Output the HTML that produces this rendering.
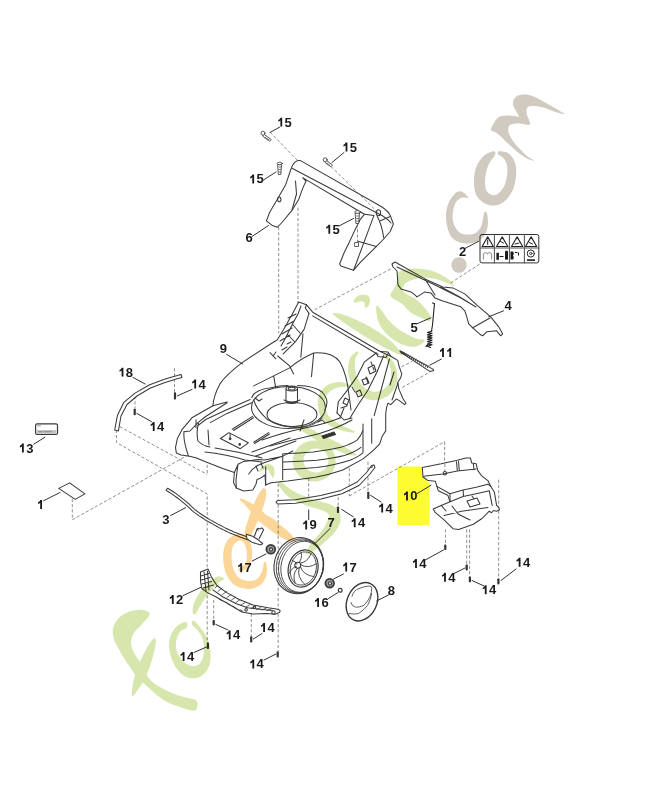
<!DOCTYPE html><html><head><meta charset="utf-8"><style>html,body{margin:0;padding:0;background:#fff;}svg{display:block;filter:blur(0.35px)}</style></head><body>
<svg width="652" height="800" viewBox="0 0 652 800">
<rect width="652" height="800" fill="#fff"/>
<path fill="#fdfc30" d="M397.5,466.5 L421.8,466.5 L422.4,476.5 L429.5,483 L429.5,525 L397.5,525 Z"/>
<g fill="none" stroke="#6a6a6a" stroke-width="0.75" stroke-dasharray="3.2 2">
<path d="M278.7,227 L278.7,333"/>
<path d="M298,207.6 L298,304"/>
<path d="M314.5,309.8 L391.8,268.3"/>
<path d="M270,132 L297,160"/>
<path d="M450.8,282.9 L479.7,264"/>
<path d="M401.4,366.8 L412.2,361.4"/>
<path d="M402.2,387.5 L429.8,372.1"/>
<path d="M174.5,368.3 L174.5,392.2"/>
<path d="M135,396 L135,408.8"/>
<path d="M116.4,429.8 L116.4,442.5 L207.2,494 L207.2,642.6"/>
<path d="M119.7,426.6 L207.2,474.4"/>
<path d="M207.2,459.6 L207.2,474.4"/>
<path d="M72.3,498.9 L72.3,519.8 L197.4,449.8"/>
<path d="M213.7,600 L213.7,620"/>
<path d="M251.3,613.6 L251.3,636.2"/>
<path d="M278.2,483.7 L278.2,651"/>
<path d="M308.7,478 L308.7,500"/>
<path d="M338.2,492 L338.2,506.4"/>
<path d="M368,461.7 L368,491.7"/>
<path d="M349.3,468 L349.3,496"/>
<path d="M349.3,496 L444.6,441.7"/>
<path d="M444.6,441.7 L444.6,471.4"/>
<path d="M445.4,529.4 L445.4,544.6"/>
<path d="M466.7,529.4 L466.7,565.3"/>
<path d="M469.6,529.4 L469.6,577"/>
<path d="M498.7,479.7 L498.7,579"/>
</g>
<g fill="none" stroke="#3a3a3a" stroke-width="1.05" stroke-linejoin="round" stroke-linecap="round">

<!-- part 6 handle bracket -->
<path fill="#fff" d="M292.2,166.1 Q295,160 300.5,160.6 L381.6,206.8 Q388,211 390.2,215.4 L393.4,224 L390.2,231.5 L383.7,239 L376.2,246.6 L367.6,255.2 L360.1,262.7 L353.6,270.2 L340.7,265.9 L339.7,263.7 L344,253 L349.3,242.3 L354.7,230.4 L360.1,219.7 L364.4,214.3 L303,177.9 L306,181 L303,187.6 L298.7,199.4 L292.2,210.1 L281.5,223 L277.2,227.3 L271.8,225.2 L266.4,220.9 L269.7,212.3 L277.2,199.4 L285.8,184.4 L290.1,171.5 Z"/>
<path d="M292.5,168.5 L377,213 Q386,217 391,223"/>
<path d="M295.5,181 L296.5,194 L292,210 M303,178 L306,181"/>
<path d="M374,215.4 L353.6,270.2 M377.3,216.5 Q382,225 383.7,238 M380.5,220.8 L390.2,216.5 M357.9,241.2 L376.2,246.6 M364.4,214.3 L374,215.4"/>
<path stroke-width="0.8" d="M355,242.5 h3.5 v4 h-3.5 z"/>
<ellipse cx="279.3" cy="199.4" rx="1.6" ry="2.3"/>
<ellipse cx="378.4" cy="212.8" rx="2.2" ry="3"/>
<!-- screws 15 -->
<g fill="#fff" stroke="#333" stroke-width="0.8">
<path d="M264.3,134.5 L271.2,139.5 L269.8,141.2 L262.9,136.2 Z"/>
<circle cx="263" cy="133.2" r="2"/>
<path d="M278,164.5 L281.5,164.5 L280.8,174.5 L278.7,174.5 Z"/>
<ellipse cx="279.75" cy="163.5" rx="2.6" ry="1.3"/>
<path d="M326.5,160.5 L332.5,165 L331,166.8 L325,162.3 Z"/>
<circle cx="325.2" cy="159.8" r="2"/>
<path d="M355.5,213 L359.5,213 L358.7,223.5 L356.3,223.5 Z"/>
<ellipse cx="357.5" cy="212" rx="2.8" ry="1.4"/>
</g>
<path stroke="#444" stroke-width="0.7" d="M266,137 l-1,1.3 M267.5,138 l-1,1.3 M269,139 l-1,1.3 M279,167 h2 M279,169.5 h2 M279,172 h2 M328,163 l-1,1.3 M329.5,164 l-1,1.3 M356.5,216 h2.5 M356.5,218.5 h2.5 M356.5,221 h2.5"/>
<!-- part 2 label -->
<rect fill="#fff" x="480" y="234.5" width="58.8" height="28.4" rx="2" stroke="#333" stroke-width="1"/>
<path d="M480,248 H538.8 M494.4,234.5 V262.9 M509.4,234.5 V262.9 M524.4,234.5 V262.9" stroke="#555"/>
<path stroke="#222" stroke-width="1.1" d="M487.7,236.9 l-5.6,9.6 h11.2 z M502.2,236.9 l-5.6,9.6 h11.2 z M517.1,236.9 l-5.6,9.6 h11.2 z M531.1,236.9 l-5.6,9.6 h11.2 z"/>
<path stroke="#222" stroke-width="1" d="M487.7,240 v4.5 M500.5,241.5 l3,1.5 M515,244 l4,-1 M529.5,242.5 l3,1.5"/>
<path stroke="#999" stroke-width="1.2" d="M483.5,259 v-5 q2,-3 4,0 q2,-3 4,0 v5"/>
<g fill="#1a1a1a" stroke="none">
<rect x="496.4" y="252.8" width="2.5" height="7"/>
<rect x="499.5" y="256" width="4" height="1"/>
<rect x="505" y="250.8" width="3" height="9" rx="1"/>
<path d="M510.5,251.5 h2.5 q1.5,2 0,4 q1.5,2 0,4 h-2.5 z"/>
<rect x="515" y="252" width="2.5" height="1"/><rect x="518" y="252.5" width="1" height="3"/>
<path d="M527,259.3 h8 v1.6 h-8 z"/>
</g>
<circle cx="530.8" cy="253.5" r="3.6" stroke="#222" stroke-width="1"/>
<circle cx="530.8" cy="253.5" r="1.2" stroke="#222" stroke-width="0.8"/>
<!-- part 4 deflector -->
<path fill="#fff" d="M392,264 L395,262 L424.9,278.9 L442.8,286.9 L452.8,287.9 L464.8,293.9 L476.7,304.9 L490.7,316.8 L498.7,326.8 L502.6,333.8 L500.7,335.8 L496.7,330.8 L486.7,331.8 L482.7,335.8 L480.7,334.8 L472.7,327.8 L468.7,323.8 L466.8,316.8 L464.8,310.8 L460.8,306.8 L442.8,300.9 L434.9,297.9 L430.9,292.9 L424.9,291.9 L416.9,296.9 L414.9,294.9 L410.9,291.9 L401,288.9 L398,284.9 L397,271 L393,267 Z"/>
<path d="M397,267 L433,284 L461,298 L476,307 M425,279 L435,295 M472.7,327.8 L490,318 M441,287 L458,296 L468,302"/>
<!-- part 5 spring -->
<path stroke="#222" stroke-width="1.1" d="M432.5,303 L434.5,303.5 L432.5,325 L431.5,331"/>
<path stroke="#222" stroke-width="1.2" d="M432,331 l-4.5,1.5 l4.5,0.8 l-4.5,1.5 l4.5,0.8 l-4.5,1.5 l4.5,0.8 l-4.5,1.5 l4.5,0.8 l-4.5,1.5 l4.5,0.8 l-4.5,1.5 l4.5,0.8 l-4.5,1.5 l3,1.2 M427.5,345 l-1.5,1.5"/>
<!-- part 11 -->
<path d="M399.9,350.7 L432.9,369.1 L433.7,370.6 L429.8,371.4 L400.7,352.2 Z"/>
<path stroke="#333" stroke-width="0.9" d="M402,351.5 l-0.5,1.8 M404,352.6 l-0.5,1.8 M406,353.7 l-0.5,1.8 M408,354.8 l-0.5,1.8 M410,355.9 l-0.5,1.8 M412,357 l-0.5,1.8 M414,358.1 l-0.5,1.8 M416,359.2 l-0.5,1.8 M418,360.3 l-0.5,1.8 M420,361.4 l-0.5,1.8 M422,362.5 l-0.5,1.8 M424,363.6 l-0.5,1.8 M426,364.7 l-0.5,1.8 M428,365.8 l-0.5,1.8"/>
<!-- part 9 deck outline -->
<path fill="#fff" d="M298.7,302 L306.5,304.8 L312.7,312.2 L380.2,351.5 L390.8,356.2 L397.7,360.4 L399,366 L401.8,374.2 L400.4,378.3 L397.7,382.5 L399,389.4 L403.2,399 L406,403.2 L404.6,404.6 L399,400.4 L396.3,399 L393.5,401.8 L390.8,404.6 L388,403.2 L386.6,407.3 L385.7,413.5 L385.7,430.9 L382.2,436.2 L379.6,444.2 L374.1,449.7 Q368,455 363.1,458.9 Q352,465 342.8,470 Q330,474.5 315.2,477.3 L287.6,481 L271,482.8 L265.7,485.1 L265,475 L262.5,476.8 L259.7,478.6 L257,479.6 L256,484.2 L252.8,489.9 L243.6,490.9 L236.3,488.1 L233.5,482.6 L234.4,472.5 L223.4,468.8 L206.8,462.3 L195.8,457.7 L188.4,455.9 L181,455 L176.4,453.1 L175.5,447.6 L177.4,438.4 L182,429.7 L191.9,417.8 L212.9,405.8 Q213.5,396 219.9,383.9 Q226,375 241.8,362.9 Q258,352 273.7,342 L277.2,340 L283.6,329.4 L292.2,314.3 Z"/>
<path d="M312.7,315.9 L378,354.5 M306.5,304.8 L305.3,308 L309,313.4"/>
<!-- rear left post -->
<path d="M309,313.4 L304.1,329.4 L295.5,341.6 L283.2,353.9 M301,306 L298,314 L293,323 L289,331 L285,339 L281,346 M288,318 L296,314 M285,326 L294,321 M282,334 L292,328 M280,341 L290,335 M293,325 L300,333 M288,335 L295,342 M276,352 l-3,4 M270,352.7 L275.9,358.8 M282,350 l5,-3 M287,344 l4,-2"/>
<!-- tub -->
<path d="M253.7,385.9 L273.7,375.9 L289.6,367.9 Q300,359 313.7,353 Q332,351.5 340,362 Q347,375 349,395 L351,410 M303,333.7 L300.8,357.3 M313.7,353 L311.5,376.6 M273.7,375.9 L275.7,387.9 M277.7,356 L289.6,365.9 L293.6,373.9"/>
<!-- bowl -->
<path d="M251.8,397.8 Q254,390 269.7,387.9 Q280,385.5 288,385.5 M297.6,385.5 Q315,386 322,392 Q330,400 325,410"/>
<ellipse cx="288.5" cy="407.5" rx="37" ry="21"/>
<path d="M253.7,399.8 Q256,409 267.7,419.8 Q281.7,427 297.6,427.7 Q314,427 322,418"/>
<ellipse cx="292" cy="414.5" rx="25" ry="12"/>
<path d="M286,389 v13 M297.5,389 v13 M286,402 q5.75,3 11.5,0 M284,400 q8,4 16,0"/>
<ellipse cx="291.75" cy="388.5" rx="5.75" ry="2.5"/>
<ellipse cx="291.75" cy="388.5" rx="3.5" ry="1.4"/>
<path d="M255,398 l4,3 l3,-2 M318,422 l4,-2 l3,3"/>
<!-- deck left / front top -->
<path d="M212.9,405.8 L227.1,401.9 M227.1,402.7 L205.7,416.5 L198,422.6 L190,431 L184,431.7 M196,419.8 L196,427.7"/>
<path d="M184,431.7 Q183,440 188.4,455.9 M250.2,399.6 L225.6,410.3 L205.7,419.5 L198,425.7 M251.7,402.7 L227.1,413.4 L210.3,422.6 M198.5,423 Q196,432 198,441 Q203,446 210,447 M208,430 L209,445 M205,452 Q225,454 245,460 L262,462 M215,448 Q240,452 262,458 M252,452 L290,438 M256,456 L296,441"/>
<path d="M220.4,438.5 L229,432.6 L248.3,442.8 L240.3,448.7 Z"/>
<path d="M230.1,433.6 L230.1,438.5 M232.2,429.3 L252.6,416.4 M233.5,430.5 L253.5,417.8 M253.7,442.2 L268.7,432.6 M254.5,443.5 L269.5,434"/>
<circle cx="230.1" cy="438.8" r="0.9" fill="#333"/><circle cx="239.7" cy="444.4" r="0.8" fill="#333"/>
<path d="M234.4,472.5 L238.1,464.2 L243.6,461.4 L258.3,459.6 L264.5,460 L281.8,456.6 L292.8,451 M248.7,474 L252.4,469.4 L257,465.8 L263.4,463 L281.8,456.6 M265.7,466.7 L265.7,485.1 M238,464 L236,480 L236.3,488.1"/>
<path d="M256,466 L258,471 M261,463 L263,468"/>
<!-- front face -->
<path d="M282.7,453.8 L282.7,479.6 M283.7,453.7 Q300,453 313.1,451.9 Q330,450 340.7,447.3 Q352,444 357.3,439.9 Q361,436 362.8,430.7 M283.7,462 Q300,461.5 316.8,460.2 Q333,458.5 344.4,455.6 Q355,452 361,447.3 M283.7,469.4 Q300,469 316.8,467.6 Q335,465 349.9,460.2 Q358,457 362.8,452.8"/>
<path d="M363,424 L363,452 M371.7,418.7 L371.7,443.2"/>
<path d="M262,440 Q285,432 305,428 Q325,424 340,418 M270,446 Q295,439 318,434 Q338,428 352,420"/>
<path d="M322,436 l12,-4 l1.5,2.5 l-12,4 z" fill="#333"/>
<path d="M300,431 L304,420 M340,418 L344,408"/>
<!-- right column -->
<path d="M375.6,353.5 L364.5,361.8 L357.6,375.6 L348,389.4 L338.3,401.8 L337,412.9 M389.4,359 L374.2,415.6 M383.5,356 L377,372 L368,390 L358,405 L350,418 M380.2,351.5 L388,352 L390.8,356.2 M376,352.5 l2,4 l8,1 l2,-4"/>
<path d="M368,368 l6,-3 l2,6 l-6,3 z M362,380 l5,-2 l2,5 l-5,2 z M356,392 l4,-2 l2,5 l-4,2 z M345,398 l4,2 l-2,5 l-4,-2 z M341,408 l6,-2 M371,362 l3,8 M366,377 l2,6 M352,387 l3,5"/>
<path d="M398,383 L392,400 M394,372 L390,385 M337,412.9 L344,420 M344,420 L352,418"/>
<!-- part 18 -->
<path fill="#fff" d="M114.7,430 L117.5,415.2 L123.9,402.3 L135,393.1 L149.7,384.8 L164.4,379.3 L177.3,375.6 L181,374.4 L182,377.5 L178,378.5 L165,382.5 L150.5,388 L137,396 L127,404.5 L121,416 L118.4,430.9 Z"/>
<!-- part 13 -->
<rect x="35.6" y="423.8" width="21.9" height="10.6" rx="1.5" stroke-width="1.2"/>
<rect x="36.8" y="430" width="19.5" height="3.4" fill="#c4c4c4" stroke="none"/>
<path stroke="#777" stroke-width="0.7" d="M37.5,425.8 h3 M38.5,431.7 h4 M44,431.7 h8"/>
<!-- part 1 -->
<path fill="#fff" d="M58.7,488.4 L69.7,482.9 L84.9,493.9 L75.2,499.4 Z"/>
<!-- part 3 -->
<path fill="#fff" d="M166.1,490.4 L167.5,491.3 L169.5,492.5 L171.9,493.9 L174.2,495.6 L176.8,497.5 L179.6,499.6 L182.4,501.9 L185.1,504.1 L187.4,506.2 L189.6,508.2 L191.8,510.3 L194.2,512.3 L196.8,514.2 L199.5,516.1 L202.1,517.8 L204.5,519.4 L206.6,520.7 L208.5,521.8 L210.4,522.8 L212.4,523.9 L214.5,525.1 L216.7,526.3 L218.9,527.6 L221.2,528.8 L223.5,529.9 L225.8,531.0 L228.1,532.1 L230.5,533.2 L233.0,534.3 L235.7,535.3 L238.3,536.3 L240.6,537.2 L242.8,538.0 L244.7,538.7 L246.4,539.3 L247.6,539.7 L248.4,537.3 L247.3,536.9 L245.6,536.3 L243.7,535.6 L241.6,534.8 L239.2,533.9 L236.7,532.9 L234.0,531.9 L231.5,530.8 L229.2,529.8 L226.9,528.7 L224.6,527.6 L222.4,526.4 L220.2,525.3 L217.9,524.1 L215.8,522.9 L213.6,521.7 L211.7,520.6 L209.8,519.6 L208.0,518.5 L205.9,517.2 L203.5,515.7 L200.9,514.0 L198.3,512.1 L195.8,510.3 L193.6,508.4 L191.4,506.4 L189.2,504.2 L186.7,502.1 L184.1,499.9 L181.2,497.6 L178.4,495.4 L175.8,493.4 L173.3,491.8 L170.9,490.3 L168.9,489.0 L167.5,488.2Z"/>
<path fill="#fff" d="M246.2,534.3 L252.6,536.2 L258.1,539.8 L262.7,543.5 L260.9,544.9 L252.6,542.6 L247,539 Z"/>
<path d="M254.4,536.2 L257.2,528.8 L259,528.3 M259,538.9 L263.6,529.7 L261.8,527.9 L259.8,529 M257.2,528.8 l1,1.5"/>
<!-- part 17 left -->
<circle cx="270.8" cy="549.3" r="4.4" stroke-width="1.8" fill="#999"/><circle cx="271" cy="549.5" r="1.6" stroke-width="1.1" fill="#ddd"/>
<!-- wheel -->
<ellipse cx="298.8" cy="565.6" rx="24.6" ry="28.3" transform="rotate(14 298.8 565.6)"/>
<ellipse cx="299.9" cy="566" rx="23.4" ry="27.4" transform="rotate(14 299.9 566)" stroke-width="0.8"/>
<ellipse cx="301" cy="566.4" rx="22.2" ry="26.6" transform="rotate(14 301 566.4)" stroke-width="0.8"/>
<ellipse cx="302.1" cy="566.8" rx="21" ry="25.8" transform="rotate(14 302.1 566.8)" stroke-width="0.8"/>
<ellipse cx="303.1" cy="568.5" rx="14.7" ry="18.9" transform="rotate(15 303.1 568.5)" stroke-width="1.2"/>
<ellipse cx="303.3" cy="568.5" rx="13" ry="17" transform="rotate(15 303.3 568.5)" stroke-width="0.8"/>
<circle cx="297.8" cy="565.2" r="3"/>
<path stroke-width="0.9" d="M300.7,567.3 Q303.0,575.0 314.0,576.7 M299.1,568.7 Q296.6,576.8 305.1,584.8 M297.3,568.5 Q291.9,573.6 295.1,583.4 M296.4,566.6 Q291.8,567.2 289.7,573.2 M296.8,564.3 Q296.2,561.4 292.2,560.3 M298.4,562.9 Q302.7,559.5 301.1,552.2 M300.2,563.1 Q307.4,562.7 311.1,553.6 M301.2,564.9 Q307.5,569.1 316.5,563.8"/>
<!-- part 17 right, 16 -->
<circle cx="329.7" cy="583.2" r="4.3" stroke-width="1.8" fill="#999"/><circle cx="330" cy="583.4" r="1.6" stroke-width="1.1" fill="#ddd"/>
<circle cx="340.2" cy="590.3" r="1.9" stroke-width="1.2"/>
<!-- part 8 hubcap -->
<ellipse fill="#fff" cx="362" cy="601.7" rx="14.8" ry="20" transform="rotate(25 362 601.7)" stroke-width="1.4"/>
<path stroke-width="0.8" d="M352,596.2 Q354,590 358.4,588.8 Q365,586 369.4,586 Q372.5,586.5 371.7,588.8 Q371.5,592 370.4,596.2 Q368,601 363.9,605.4 Q359,607.5 355.6,607.2 Q351.5,606 351,602.6 M349.2,613.6 Q354,614.5 358.4,613.6 Q364,610 367.6,605.4 Q371,599 371.7,593.4"/>
<!-- part 19 -->
<path fill="#fff" d="M277.6,500.5 L295.3,499.7 L320.6,495.5 L340.9,490.4 L357.2,482 L367,472 L371.5,465.5 L374,465 L375,467.5 L373.5,469.5 L369.5,474.5 L359,485.5 L342,493.8 L321,499 L295.5,503.3 L277.6,504 L276,502.2 Z"/>
<path d="M371,467.5 l1.5,-0.8"/>
<!-- part 12 -->
<path fill="#fff" d="M200.5,571.9 L208.1,569.1 L211.6,577.4 L217.1,585.7 L226.8,592.6 L239.2,599.5 L253,605.1 L268.2,607.8 L277.9,609.2 Q281.5,610.5 279.3,612.5 L275.1,614.2 L266.8,613.5 L253,614 L242,612 L228.1,603.7 L215.7,596.8 L207.4,592.6 L201.9,588.5 L200.5,581.6 Z"/>
<path d="M212.9,589.9 L222.6,596.8 L236.4,603.7 L247.5,607.8 L259.9,609.2 L272.4,610.6 M200.8,576 L208.8,573.5 M201.2,580 L210,577.5 M201.8,584 L211.5,581.5 M203,588 L213.5,585 M204,572 L206,591 M207.5,571 L209,590"/>
<path stroke-width="0.8" d="M215,588 l3,-3 M218,591.5 l4,-3.5 M222.5,594.5 l4,-3 M227,597.5 l4,-3 M231.5,600 l4,-2.8 M236,602.5 l4,-2.8 M241,605 l4,-2.5 M246,607 l4,-2.3 M251,608.5 l4,-2 M256.5,609.5 l4,-1.8 M262,610 l4,-1.8 M267,610.5 l4,-1.5 M219,599 l3,2 M226,602 l3,2.5 M233,606 l3,2.5 M240,609.5 l3,2"/>
<circle cx="246.1" cy="609.8" r="1.3"/><circle cx="254.4" cy="607.2" r="1.2"/><circle cx="273.5" cy="612.5" r="1.7"/>
<!-- part 10 -->
<path fill="#fff" d="M422.3,467.5 L441.2,463.8 L457.3,460.2 L466,458 L470.4,458 L471.8,463.1 L476.2,463.8 L477.7,470.4 L482,476.2 L487.9,480.6 L490.8,486.4 L494.4,492.3 L496.6,505.4 L498.8,507.6 L499.5,509.7 L496.6,511.2 L493.7,510.5 L491.5,512.7 L489.3,511.2 L482,518.5 L473.3,524.3 L458.7,529.4 L452.9,528.7 L444.1,519.9 L435.4,512.7 L433.2,509 L441.2,505.4 L450,501.7 L447.8,495.2 L438.3,490.8 L436.9,486.4 L435.4,481.3 L428.1,480.6 L423,477 Z"/>
<path d="M423.7,476.2 L442.7,474 L457.3,471.1 L476.2,468.9 M456.5,461.7 L457.3,470.4 M458.5,461.2 L459.3,470.2 M473.3,463.8 L474,469.7 M436.9,486.4 L450,493.7 L463.1,490.1 L476.2,487.2 L487.9,484.2 L490.8,486.4 M450,493.7 L450,501.7 M450,501.7 L463.1,496.6 L476.2,493.7 L489.3,490.8 L492.2,505.4 M463.1,490.1 L463.5,496.5"/>
<path d="M467,501 L477,498 L480,504 L470,507 Z M472,496 l2,3 M444.1,515.6 L461.6,511.2 L487.9,507.6 M452,506 L458,514 L470,520 M441.2,505.4 L446,511"/>
<circle cx="444.9" cy="473.3" r="1.7"/>

</g>
<g fill="none" stroke="#6a6a6a" stroke-width="0.75" stroke-dasharray="3.2 2">
<path d="M331,166.5 L378,212.5"/>
<path d="M357.5,224 L357.5,243.5"/>
<path d="M444.9,464 L444.9,471.5"/>
</g>
<g stroke="#333" stroke-width="1" stroke-linecap="round">
<line x1="270" y1="132.5" x2="279.9" y2="127"/>
<line x1="332" y1="162.5" x2="344" y2="152.5"/>
<line x1="263.5" y1="180" x2="276" y2="172"/>
<line x1="339" y1="226" x2="353.5" y2="218.5"/>
<line x1="252" y1="236.5" x2="268.5" y2="225.5"/>
<line x1="465.3" y1="248.3" x2="479.1" y2="241"/>
<line x1="503.6" y1="310.8" x2="488.7" y2="316.8"/>
<line x1="416.9" y1="323.8" x2="430.9" y2="317.8"/>
<line x1="441.3" y1="359.1" x2="429.8" y2="365.2"/>
<line x1="226.6" y1="354.4" x2="242.7" y2="364"/>
<line x1="133.1" y1="377.5" x2="145.1" y2="384"/>
<line x1="177.3" y1="395.9" x2="192" y2="389.4"/>
<line x1="136.8" y1="413.4" x2="151.5" y2="421.7"/>
<line x1="33.8" y1="444.2" x2="44.8" y2="437.3"/>
<line x1="43.5" y1="500.8" x2="60" y2="492.5"/>
<line x1="170.5" y1="515.6" x2="185.6" y2="507.7"/>
<line x1="417.3" y1="493.5" x2="431" y2="485.2"/>
<line x1="370.5" y1="495.3" x2="381" y2="502"/>
<line x1="308.7" y1="510" x2="308.7" y2="519.7"/>
<line x1="330" y1="528.6" x2="315.2" y2="543.3"/>
<line x1="341.7" y1="509.4" x2="353.3" y2="516.8"/>
<line x1="252.2" y1="561" x2="266" y2="554"/>
<line x1="333.6" y1="579" x2="343.4" y2="574"/>
<line x1="328.5" y1="598.5" x2="338" y2="592.5"/>
<line x1="388.8" y1="594.8" x2="376.6" y2="601"/>
<line x1="183.1" y1="595.6" x2="201" y2="587.3"/>
<line x1="215.8" y1="624.4" x2="228" y2="630"/>
<line x1="253.4" y1="639" x2="262" y2="633.5"/>
<line x1="194" y1="652.5" x2="206.5" y2="647"/>
<line x1="264" y1="660" x2="276" y2="654"/>
<line x1="425.6" y1="559.8" x2="443.5" y2="550"/>
<line x1="454" y1="573.5" x2="465" y2="568"/>
<line x1="472" y1="580.5" x2="484" y2="586"/>
<line x1="501" y1="580.5" x2="516" y2="569"/>
</g>
<g fill="#333">
<rect x="173.9" y="392.2" width="2.2" height="7.400000000000034" rx="0.8"/>
<rect x="133.6" y="408.8" width="2.2" height="6.399999999999977" rx="0.8"/>
<rect x="367.2" y="491.7" width="2.2" height="7.300000000000011" rx="0.8"/>
<rect x="336.9" y="506.4" width="2.2" height="6.7000000000000455" rx="0.8"/>
<rect x="212.6" y="620" width="2.2" height="5.399999999999977" rx="0.8"/>
<rect x="250.1" y="636.2" width="2.2" height="6.399999999999977" rx="0.8"/>
<rect x="206.8" y="642.6" width="2.2" height="6.399999999999977" rx="0.8"/>
<rect x="276.59999999999997" y="651.2" width="2.2" height="6.399999999999977" rx="0.8"/>
<rect x="444.2" y="544.6" width="2.2" height="5.5" rx="0.8"/>
<rect x="465.59999999999997" y="564.5" width="2.2" height="5.899999999999977" rx="0.8"/>
<rect x="468.79999999999995" y="576.4" width="2.2" height="5.899999999999977" rx="0.8"/>
<rect x="497.29999999999995" y="578.5" width="2.2" height="5.899999999999977" rx="0.8"/>
</g>
<g font-family="Liberation Sans, sans-serif" font-weight="bold" font-size="13" fill="#1a1a1a">
<path d="M280.56,117.66 L282.21,117.66 L282.21,126.60 L280.39,126.60 L280.39,120.49 L279.45,121.14 L278.28,121.59 L278.28,119.97 L279.58,119.19Z"/>
<text x="284.60" y="126.6">5</text>
<path d="M345.76,142.56 L347.41,142.56 L347.41,151.50 L345.59,151.50 L345.59,145.39 L344.65,146.04 L343.48,146.50 L343.48,144.87 L344.78,144.09Z"/>
<text x="349.80" y="151.5">5</text>
<path d="M252.46,174.46 L254.11,174.46 L254.11,183.40 L252.29,183.40 L252.29,177.29 L251.35,177.94 L250.18,178.40 L250.18,176.77 L251.48,175.99Z"/>
<text x="256.50" y="183.4">5</text>
<path d="M328.56,224.76 L330.21,224.76 L330.21,233.70 L328.39,233.70 L328.39,227.59 L327.45,228.24 L326.28,228.69 L326.28,227.07 L327.58,226.29Z"/>
<text x="332.60" y="233.7">5</text>
<text x="245.39" y="242.3">6</text>
<text x="458.89" y="256">2</text>
<text x="504.39" y="310">4</text>
<text x="410.39" y="332">5</text>
<path d="M442.26,348.06 L443.91,348.06 L443.91,357.00 L442.09,357.00 L442.09,350.89 L441.15,351.54 L439.98,352.00 L439.98,350.37 L441.28,349.59Z"/>
<path d="M449.49,348.06 L451.14,348.06 L451.14,357.00 L449.32,357.00 L449.32,350.89 L448.38,351.54 L447.21,352.00 L447.21,350.37 L448.51,349.59Z"/>
<text x="219.69" y="353.3">9</text>
<path d="M121.76,367.66 L123.41,367.66 L123.41,376.60 L121.59,376.60 L121.59,370.49 L120.65,371.14 L119.48,371.60 L119.48,369.97 L120.78,369.19Z"/>
<text x="125.80" y="376.6">8</text>
<path d="M194.46,379.56 L196.11,379.56 L196.11,388.50 L194.29,388.50 L194.29,382.39 L193.35,383.04 L192.18,383.50 L192.18,381.87 L193.48,381.09Z"/>
<text x="198.50" y="388.5">4</text>
<path d="M152.96,422.06 L154.61,422.06 L154.61,431.00 L152.79,431.00 L152.79,424.89 L151.85,425.54 L150.68,426.00 L150.68,424.37 L151.98,423.59Z"/>
<text x="157.00" y="431">4</text>
<path d="M22.16,443.56 L23.81,443.56 L23.81,452.50 L21.99,452.50 L21.99,446.39 L21.05,447.04 L19.88,447.50 L19.88,445.87 L21.18,445.09Z"/>
<text x="26.20" y="452.5">3</text>
<path d="M40.37,500.06 L42.02,500.06 L42.02,509.00 L40.20,509.00 L40.20,502.89 L39.27,503.54 L38.10,504.00 L38.10,502.37 L39.40,501.59Z"/>
<text x="162.29" y="523.8">3</text>
<path d="M406.26,491.46 L407.91,491.46 L407.91,500.40 L406.09,500.40 L406.09,494.29 L405.15,494.94 L403.98,495.39 L403.98,493.77 L405.28,492.99Z"/>
<text x="410.30" y="500.4">0</text>
<path d="M381.46,503.56 L383.11,503.56 L383.11,512.50 L381.29,512.50 L381.29,506.39 L380.35,507.04 L379.18,507.50 L379.18,505.87 L380.48,505.09Z"/>
<text x="385.50" y="512.5">4</text>
<path d="M305.46,520.46 L307.11,520.46 L307.11,529.40 L305.29,529.40 L305.29,523.29 L304.35,523.94 L303.18,524.39 L303.18,522.77 L304.48,521.99Z"/>
<text x="309.50" y="529.4">9</text>
<text x="327.59" y="527.4">7</text>
<path d="M353.96,518.26 L355.61,518.26 L355.61,527.20 L353.79,527.20 L353.79,521.09 L352.85,521.74 L351.68,522.20 L351.68,520.57 L352.98,519.79Z"/>
<text x="358.00" y="527.2">4</text>
<path d="M240.46,563.26 L242.11,563.26 L242.11,572.20 L240.29,572.20 L240.29,566.09 L239.35,566.74 L238.18,567.20 L238.18,565.57 L239.48,564.79Z"/>
<text x="244.50" y="572.2">7</text>
<path d="M345.46,562.56 L347.11,562.56 L347.11,571.50 L345.29,571.50 L345.29,565.39 L344.35,566.04 L343.18,566.50 L343.18,564.87 L344.48,564.09Z"/>
<text x="349.50" y="571.5">7</text>
<path d="M317.36,598.06 L319.01,598.06 L319.01,607.00 L317.19,607.00 L317.19,600.89 L316.25,601.54 L315.08,602.00 L315.08,600.37 L316.38,599.59Z"/>
<text x="321.40" y="607">6</text>
<text x="387.69" y="594.8">8</text>
<path d="M172.06,595.06 L173.71,595.06 L173.71,604.00 L171.89,604.00 L171.89,597.89 L170.95,598.54 L169.78,599.00 L169.78,597.37 L171.08,596.59Z"/>
<text x="176.10" y="604">2</text>
<path d="M228.96,630.46 L230.61,630.46 L230.61,639.40 L228.79,639.40 L228.79,633.29 L227.85,633.94 L226.68,634.39 L226.68,632.77 L227.98,631.99Z"/>
<text x="233.00" y="639.4">4</text>
<path d="M263.36,622.96 L265.01,622.96 L265.01,631.90 L263.19,631.90 L263.19,625.79 L262.25,626.44 L261.08,626.89 L261.08,625.27 L262.38,624.49Z"/>
<text x="267.40" y="631.9">4</text>
<path d="M182.86,651.96 L184.51,651.96 L184.51,660.90 L182.69,660.90 L182.69,654.79 L181.75,655.44 L180.58,655.89 L180.58,654.27 L181.88,653.49Z"/>
<text x="186.90" y="660.9">4</text>
<path d="M252.56,659.46 L254.21,659.46 L254.21,668.40 L252.39,668.40 L252.39,662.29 L251.45,662.94 L250.28,663.39 L250.28,661.77 L251.58,660.99Z"/>
<text x="256.60" y="668.4">4</text>
<path d="M415.26,559.06 L416.91,559.06 L416.91,568.00 L415.09,568.00 L415.09,561.89 L414.15,562.54 L412.98,563.00 L412.98,561.37 L414.28,560.59Z"/>
<text x="419.30" y="568">4</text>
<path d="M444.26,572.86 L445.91,572.86 L445.91,581.80 L444.09,581.80 L444.09,575.69 L443.15,576.34 L441.98,576.79 L441.98,575.17 L443.28,574.39Z"/>
<text x="448.30" y="581.8">4</text>
<path d="M484.96,585.36 L486.61,585.36 L486.61,594.30 L484.79,594.30 L484.79,588.19 L483.85,588.84 L482.68,589.29 L482.68,587.67 L483.98,586.89Z"/>
<text x="489.00" y="594.3">4</text>
<path d="M518.86,557.76 L520.51,557.76 L520.51,566.70 L518.69,566.70 L518.69,560.59 L517.75,561.24 L516.58,561.70 L516.58,560.07 L517.88,559.29Z"/>
<text x="522.90" y="566.7">4</text>
</g>
<g style="mix-blend-mode:multiply">
<path fill="#d7e6ad" fill-rule="evenodd" d="M149.5,613.0 C148.7,611.7 146.1,610.4 143.3,610.0 C140.5,609.6 136.2,609.8 132.6,610.7 C129.0,611.6 124.8,613.2 121.9,615.3 C119.0,617.3 116.5,620.4 115.0,623.0 C113.5,625.6 112.8,627.9 112.7,630.7 C112.6,633.5 113.2,636.8 114.2,639.9 C115.2,643.0 117.0,645.8 118.8,649.1 C120.6,652.4 123.0,656.7 124.9,659.8 C126.8,662.9 128.5,664.9 130.3,667.5 C132.1,670.1 133.5,672.7 135.7,675.2 C137.9,677.8 140.3,680.0 143.3,682.8 C146.3,685.6 149.8,689.1 153.6,692.2 C157.4,695.3 161.4,698.9 166.0,701.4 C170.6,703.9 176.8,706.0 181.2,707.5 C185.5,709.0 189.5,710.4 192.1,710.6 C194.7,710.9 195.8,710.2 196.7,709.0 C197.6,707.8 197.8,704.6 197.5,703.1 C197.2,701.6 196.6,700.6 195.2,699.8 C193.8,699.0 192.6,699.3 189.0,698.3 C185.4,697.3 178.8,695.8 173.7,693.7 C168.6,691.7 162.2,688.5 158.2,686.0 C154.2,683.5 151.8,681.7 149.5,679.0 C147.2,676.3 146.0,673.1 144.1,669.8 C142.2,666.5 139.7,661.8 138.0,659.0 C136.3,656.2 135.2,655.1 134.1,652.9 C133.0,650.7 131.8,648.3 131.4,646.0 C131.0,643.7 130.8,641.5 131.4,639.1 C132.0,636.7 133.2,633.8 134.9,631.4 C136.6,629.0 139.6,626.8 141.8,624.5 C144.0,622.2 146.6,619.5 147.9,617.6 C149.2,615.7 150.3,614.3 149.5,613.0Z"/>
<path fill="#d7e6ad" fill-rule="evenodd" d="M131.8,695.9 C131.6,694.4 132.1,689.3 132.6,685.9 C133.1,682.5 133.9,678.8 134.9,675.2 C135.9,671.6 137.2,668.1 138.7,664.4 C140.2,660.7 142.3,656.3 144.1,652.9 C145.9,649.5 147.8,646.1 149.5,643.7 C151.2,641.3 153.0,638.7 154.1,638.3 C155.2,637.9 155.8,639.0 155.9,641.1 C156.0,643.2 155.1,647.2 154.4,650.6 C153.7,654.0 152.5,658.0 151.5,661.3 C150.5,664.6 149.5,667.5 148.3,670.6 C147.2,673.7 146.1,677.0 144.6,679.8 C143.1,682.6 141.2,684.9 139.5,687.4 C137.8,689.9 135.4,693.4 134.1,694.8 C132.8,696.2 132.1,697.4 131.8,695.9Z"/>
<path fill="#d7e6ad" fill-rule="evenodd" d="M186.0,622.0 C184.3,621.8 179.5,623.8 177.0,626.0 C174.5,628.2 172.3,631.8 171.0,635.0 C169.7,638.2 169.0,641.3 169.0,645.0 C169.0,648.7 169.7,653.0 171.0,657.0 C172.3,661.0 174.5,665.7 177.0,669.0 C179.5,672.3 182.8,675.5 186.0,677.0 C189.2,678.5 193.0,678.5 196.0,678.0 C199.0,677.5 201.8,676.2 204.0,674.0 C206.2,671.8 208.4,668.5 209.5,665.0 C210.6,661.5 210.6,656.7 210.5,653.0 C210.4,649.3 209.9,646.2 209.0,643.0 C208.1,639.8 206.7,636.8 205.0,634.0 C203.3,631.2 200.9,628.2 199.0,626.0 C197.1,623.8 194.7,620.8 193.5,620.5 C192.3,620.2 191.1,622.6 192.0,624.5 C192.9,626.4 197.2,629.4 199.0,632.0 C200.8,634.6 202.2,637.0 203.0,640.0 C203.8,643.0 204.2,646.7 204.0,650.0 C203.8,653.3 203.2,657.4 202.0,660.0 C200.8,662.6 199.0,664.6 197.0,665.5 C195.0,666.4 192.3,666.2 190.0,665.5 C187.7,664.8 185.2,663.2 183.0,661.0 C180.8,658.8 178.2,655.0 177.0,652.0 C175.8,649.0 175.8,645.8 176.0,643.0 C176.2,640.2 177.0,637.2 178.0,635.0 C179.0,632.8 180.5,631.2 182.0,630.0 C183.5,628.8 186.3,628.8 187.0,627.5 C187.7,626.2 187.7,622.2 186.0,622.0Z"/>
<path fill="#d7e6ad" fill-rule="evenodd" d="M195.4,614.4 L195.8,613.8 L196.2,613.1 L196.7,612.2 L197.2,611.2 L197.8,610.2 L198.4,609.1 L199.0,608.1 L199.5,607.3 L200.0,606.4 L200.6,605.4 L201.2,604.4 L201.7,603.4 L202.3,602.4 L202.9,601.4 L203.6,600.4 L204.2,599.5 L204.8,598.6 L205.5,597.7 L206.1,596.8 L206.8,596.0 L207.5,595.1 L208.2,594.2 L208.9,593.4 L209.6,592.5 L210.3,591.7 L211.0,590.9 L211.7,590.0 L212.4,589.2 L213.1,588.4 L213.8,587.6 L214.4,586.9 L215.0,586.3 L215.7,585.6 L216.2,585.0 L216.8,584.5 L217.4,583.9 L217.9,583.5 L218.3,583.0 L218.8,582.6 L219.2,582.2 L219.6,581.9 L220.1,581.5 L220.7,581.2 L221.4,580.8 L222.0,580.5 L222.7,580.2 L223.2,579.9 L223.7,579.7 L223.3,577.3 L222.9,577.2 L222.4,577.0 L221.7,576.9 L220.8,576.7 L219.9,576.6 L218.9,576.5 L217.9,576.5 L216.8,576.8 L215.8,577.1 L214.9,577.4 L214.1,577.9 L213.2,578.4 L212.4,578.9 L211.6,579.5 L210.8,580.1 L210.0,580.7 L209.1,581.4 L208.3,582.2 L207.4,583.0 L206.6,583.9 L205.8,584.7 L205.0,585.6 L204.2,586.5 L203.4,587.5 L202.7,588.4 L201.9,589.3 L201.2,590.3 L200.5,591.3 L199.8,592.3 L199.1,593.4 L198.5,594.4 L197.8,595.5 L197.2,596.6 L196.6,597.7 L196.0,598.9 L195.4,600.0 L194.8,601.2 L194.3,602.4 L193.9,603.6 L193.5,604.7 L193.2,606.0 L193.0,607.3 L192.8,608.6 L192.7,609.9 L192.7,611.1 L192.6,612.1 L192.6,612.9 L192.6,613.6Z"/>
<path fill="#fcd698" fill-rule="evenodd" d="M263.1,488.1 L262.7,488.5 L262.3,489.1 L261.8,489.8 L261.2,490.5 L260.6,491.3 L260.0,492.1 L259.5,493.0 L259.0,493.8 L258.5,494.6 L258.0,495.5 L257.5,496.4 L257.0,497.3 L256.5,498.3 L256.0,499.3 L255.5,500.3 L255.1,501.3 L254.6,502.3 L254.2,503.3 L253.8,504.2 L253.4,505.2 L253.0,506.2 L252.6,507.2 L252.2,508.2 L251.8,509.2 L251.4,510.3 L251.0,511.4 L250.6,512.5 L250.2,513.7 L249.7,514.9 L249.3,516.0 L248.9,517.2 L248.6,518.3 L248.2,519.4 L247.9,520.4 L247.5,521.5 L247.2,522.5 L246.9,523.6 L246.6,524.6 L246.3,525.6 L246.0,526.5 L245.7,527.6 L245.5,528.6 L245.2,529.7 L244.9,530.7 L244.7,531.7 L244.5,532.6 L244.3,533.3 L244.2,533.8 L250.8,536.2 L251.0,535.7 L251.4,535.0 L251.8,534.2 L252.2,533.3 L252.6,532.3 L253.1,531.4 L253.6,530.4 L254.0,529.5 L254.4,528.6 L254.8,527.6 L255.3,526.7 L255.7,525.7 L256.1,524.7 L256.6,523.7 L257.0,522.7 L257.4,521.7 L257.9,520.6 L258.4,519.6 L258.8,518.4 L259.3,517.3 L259.8,516.2 L260.3,515.0 L260.7,513.9 L261.2,512.8 L261.6,511.7 L262.0,510.7 L262.3,509.7 L262.7,508.7 L263.0,507.7 L263.3,506.7 L263.6,505.7 L263.9,504.7 L264.2,503.6 L264.6,502.6 L264.9,501.5 L265.2,500.5 L265.4,499.4 L265.7,498.3 L265.9,497.3 L266.0,496.2 L266.1,495.2 L266.2,494.1 L266.2,493.0 L266.1,492.0 L266.1,491.0 L266.0,490.2 L266.0,489.5 L265.9,488.9Z"/>
<path fill="#fcd698" fill-rule="evenodd" d="M239.5,571.8 L240.1,571.6 L240.9,571.3 L242.0,570.9 L243.2,570.4 L244.4,569.9 L245.6,569.3 L246.8,568.5 L247.9,567.6 L248.7,566.6 L249.4,565.6 L250.0,564.5 L250.5,563.4 L250.9,562.2 L251.3,561.0 L251.5,559.8 L251.8,558.5 L252.0,557.2 L252.1,555.8 L252.1,554.3 L252.1,552.8 L252.0,551.3 L251.9,549.9 L251.7,548.4 L251.5,547.1 L251.2,545.8 L250.9,544.6 L250.5,543.4 L250.0,542.2 L249.5,541.0 L248.9,539.9 L248.3,538.8 L247.5,537.9 L246.7,537.0 L245.8,536.2 L244.8,535.6 L243.7,535.0 L242.6,534.5 L241.5,534.2 L240.3,534.0 L239.0,534.0 L237.7,534.1 L236.4,534.4 L235.2,534.7 L234.0,535.2 L232.8,535.8 L231.7,536.5 L230.6,537.2 L229.6,538.0 L228.7,538.9 L227.9,539.8 L227.1,540.8 L226.5,541.9 L225.9,543.0 L225.3,544.2 L224.9,545.4 L224.4,546.6 L224.1,548.0 L223.8,549.3 L223.5,550.8 L223.3,552.2 L223.2,553.7 L223.1,555.3 L223.1,556.8 L223.2,558.4 L223.3,560.0 L223.4,561.7 L223.6,563.5 L223.8,565.3 L224.2,567.1 L224.6,569.0 L225.0,570.8 L225.6,572.5 L226.3,574.1 L227.0,575.6 L227.8,577.1 L228.6,578.6 L229.6,580.0 L230.6,581.3 L231.7,582.5 L232.9,583.7 L234.2,584.7 L235.5,585.6 L236.9,586.3 L238.3,586.9 L239.7,587.4 L241.1,587.8 L242.4,588.1 L243.6,588.4 L244.9,588.6 L246.2,588.8 L247.6,588.9 L248.9,588.9 L250.2,588.9 L251.6,588.7 L252.9,588.5 L254.2,588.1 L255.4,587.7 L256.7,587.1 L257.9,586.5 L259.0,585.8 L260.2,585.0 L261.2,584.2 L262.2,583.2 L263.2,582.1 L264.0,581.0 L264.7,579.7 L265.2,578.5 L265.7,577.2 L266.2,575.9 L266.5,574.6 L266.7,573.3 L266.9,572.0 L267.0,570.6 L267.0,569.2 L266.9,567.7 L266.7,566.2 L266.5,564.9 L266.3,563.7 L266.1,562.7 L266.0,562.0 L264.0,562.0 L263.9,562.7 L263.7,563.7 L263.5,564.9 L263.3,566.2 L263.0,567.5 L262.7,568.8 L262.4,570.0 L262.1,571.0 L261.7,571.9 L261.3,573.0 L260.8,574.0 L260.3,574.9 L259.8,575.8 L259.3,576.6 L258.8,577.3 L258.2,577.9 L257.7,578.4 L257.0,578.9 L256.3,579.3 L255.5,579.7 L254.7,580.1 L253.8,580.4 L253.0,580.7 L252.2,580.9 L251.4,581.0 L250.6,581.1 L249.8,581.1 L249.0,581.1 L248.1,581.1 L247.2,581.0 L246.3,580.8 L245.4,580.6 L244.4,580.3 L243.4,580.0 L242.5,579.7 L241.5,579.3 L240.7,578.8 L239.9,578.4 L239.2,577.9 L238.5,577.3 L237.9,576.7 L237.2,575.9 L236.5,575.0 L235.8,574.0 L235.2,572.9 L234.6,571.8 L234.1,570.7 L233.6,569.5 L233.2,568.3 L232.8,567.0 L232.5,565.5 L232.3,564.0 L232.1,562.4 L231.9,560.9 L231.7,559.4 L231.6,558.0 L231.6,556.7 L231.5,555.4 L231.5,554.1 L231.6,552.9 L231.7,551.8 L231.8,550.7 L232.0,549.7 L232.2,548.8 L232.4,547.9 L232.7,547.1 L232.9,546.3 L233.3,545.7 L233.6,545.0 L234.0,544.4 L234.4,543.9 L234.8,543.4 L235.3,542.9 L235.8,542.4 L236.5,541.9 L237.2,541.5 L237.8,541.1 L238.5,540.8 L239.0,540.6 L239.4,540.4 L239.8,540.4 L240.2,540.4 L240.7,540.5 L241.2,540.7 L241.7,540.9 L242.2,541.2 L242.7,541.5 L243.1,541.9 L243.5,542.4 L243.9,543.0 L244.4,543.7 L244.8,544.5 L245.2,545.4 L245.5,546.3 L245.8,547.3 L246.1,548.3 L246.3,549.4 L246.6,550.5 L246.7,551.8 L246.8,553.1 L246.9,554.4 L246.9,555.6 L246.9,556.8 L246.8,557.9 L246.7,558.9 L246.5,559.9 L246.3,560.8 L246.0,561.7 L245.7,562.5 L245.3,563.3 L244.9,564.0 L244.5,564.6 L244.0,565.2 L243.3,565.8 L242.4,566.5 L241.5,567.1 L240.5,567.8 L239.5,568.3 L238.7,568.8 L238.1,569.2Z"/>
<path fill="#fcd698" fill-rule="evenodd" d="M239.7,499.6 L240.3,500.3 L241.2,501.2 L242.2,502.2 L243.4,503.4 L244.5,504.6 L245.7,505.8 L246.7,507.0 L247.7,508.0 L248.5,508.9 L249.2,509.7 L249.9,510.4 L250.6,511.2 L251.2,511.9 L251.8,512.6 L252.4,513.3 L253.0,514.0 L253.7,514.8 L254.3,515.7 L255.1,516.6 L255.8,517.6 L256.7,518.6 L257.6,519.7 L258.5,520.8 L259.6,521.8 L260.7,522.8 L261.8,523.6 L262.8,524.4 L263.8,525.1 L264.7,525.8 L265.6,526.4 L266.4,527.0 L267.2,527.5 L268.0,528.2 L268.9,528.9 L269.9,529.6 L270.8,530.4 L271.8,531.2 L272.8,531.9 L273.9,532.7 L275.0,533.5 L276.0,534.2 L277.1,534.9 L278.2,535.6 L279.2,536.2 L280.3,536.9 L281.3,537.5 L282.3,538.0 L283.3,538.5 L284.2,539.0 L285.1,539.4 L286.0,539.8 L286.9,540.1 L287.7,540.4 L288.5,540.7 L289.3,540.9 L290.1,541.1 L290.8,541.3 L291.6,541.5 L292.4,541.5 L293.1,541.6 L293.7,541.6 L294.3,541.6 L294.8,541.6 L295.1,541.7 L295.9,540.3 L295.6,540.0 L295.3,539.6 L295.0,539.2 L294.6,538.7 L294.2,538.1 L293.8,537.6 L293.4,537.0 L292.9,536.5 L292.4,535.9 L291.9,535.3 L291.4,534.7 L290.8,534.1 L290.2,533.5 L289.5,532.8 L288.8,532.2 L288.1,531.5 L287.3,530.8 L286.5,530.1 L285.6,529.3 L284.7,528.6 L283.8,527.8 L282.8,527.0 L281.9,526.3 L281.0,525.5 L280.2,524.8 L279.3,524.0 L278.4,523.2 L277.5,522.4 L276.5,521.5 L275.5,520.7 L274.5,519.9 L273.4,519.1 L272.3,518.3 L271.1,517.6 L270.1,517.0 L269.1,516.5 L268.2,516.0 L267.3,515.6 L266.5,515.1 L265.8,514.6 L265.1,514.0 L264.3,513.3 L263.5,512.5 L262.7,511.6 L261.9,510.7 L260.9,509.8 L260.0,508.8 L259.0,508.0 L258.0,507.2 L257.1,506.5 L256.2,505.9 L255.3,505.4 L254.3,504.9 L253.4,504.3 L252.4,503.8 L251.3,503.2 L250.1,502.6 L248.7,501.8 L247.2,501.1 L245.6,500.3 L244.2,499.6 L242.8,498.9 L241.7,498.4 L240.9,498.0Z"/>
<path fill="#d7e6ad" fill-rule="evenodd" d="M259.0,472.0 C258.8,471.4 260.5,467.8 262.0,466.5 C263.5,465.2 266.2,464.1 268.0,464.0 C269.8,463.9 271.9,464.7 273.0,466.0 C274.1,467.3 274.5,470.0 274.5,472.0 C274.5,474.0 273.7,477.7 273.0,478.0 C272.3,478.3 271.4,475.4 270.5,474.0 C269.6,472.6 268.8,470.2 267.5,469.5 C266.2,468.8 264.4,469.6 263.0,470.0 C261.6,470.4 259.2,472.6 259.0,472.0Z"/>
<path fill="#d7e6ad" fill-rule="evenodd" d="M277.8,482.9 L278.1,483.4 L278.4,484.1 L278.8,485.0 L279.2,485.9 L279.8,487.0 L280.4,488.0 L281.1,489.1 L281.9,490.1 L282.7,491.1 L283.5,492.0 L284.3,492.9 L285.3,493.9 L286.4,494.9 L287.6,495.9 L288.9,496.9 L290.4,497.9 L292.0,498.9 L293.8,499.9 L295.7,500.9 L297.7,501.8 L299.7,502.8 L301.8,503.6 L303.7,504.5 L305.6,505.2 L307.4,505.9 L309.2,506.5 L311.0,507.1 L312.7,507.5 L314.4,508.0 L315.9,508.4 L317.4,508.8 L318.8,509.3 L320.2,509.8 L321.5,510.3 L322.8,510.7 L323.9,511.1 L324.9,511.6 L325.8,512.0 L326.6,512.4 L327.2,512.8 L327.7,513.3 L328.2,513.9 L328.6,514.4 L328.9,514.9 L329.2,515.4 L329.3,515.8 L329.4,516.2 L329.3,516.4 L329.2,516.5 L329.1,516.6 L329.0,516.7 L328.9,516.9 L328.7,517.3 L328.5,517.8 L328.3,518.4 L328.1,519.1 L327.8,519.8 L327.6,520.5 L327.2,521.3 L326.9,522.2 L326.5,523.2 L326.1,524.1 L325.6,525.0 L325.2,525.8 L324.8,526.6 L324.3,527.3 L323.8,528.1 L323.2,528.9 L322.6,529.8 L322.0,530.6 L321.3,531.5 L320.7,532.3 L320.0,533.0 L319.4,533.7 L318.8,534.4 L318.2,535.1 L317.5,535.8 L316.8,536.6 L316.1,537.3 L315.4,538.1 L314.8,538.9 L314.1,539.7 L313.5,540.5 L312.8,541.3 L312.1,542.1 L311.5,543.0 L310.9,543.8 L310.3,544.6 L309.8,545.5 L309.3,546.3 L308.9,547.2 L308.5,548.0 L308.2,548.7 L307.9,549.4 L307.6,550.0 L307.4,550.5 L307.1,551.0 L306.9,551.4 L306.7,551.8 L306.4,552.2 L306.2,552.6 L306.0,552.9 L305.7,553.2 L305.6,553.4 L306.4,554.6 L306.7,554.6 L307.0,554.5 L307.4,554.4 L307.9,554.3 L308.4,554.2 L309.0,553.9 L309.6,553.7 L310.2,553.3 L310.9,552.9 L311.5,552.4 L312.2,551.9 L312.8,551.4 L313.5,550.9 L314.2,550.4 L314.8,549.9 L315.5,549.4 L316.2,548.9 L316.9,548.3 L317.7,547.7 L318.5,547.1 L319.3,546.5 L320.1,545.8 L321.0,545.2 L321.8,544.5 L322.5,543.9 L323.2,543.3 L324.0,542.7 L324.7,542.0 L325.5,541.3 L326.3,540.6 L327.1,539.9 L327.9,539.1 L328.7,538.4 L329.6,537.7 L330.4,536.9 L331.3,536.1 L332.2,535.2 L333.1,534.2 L333.9,533.2 L334.8,532.2 L335.6,531.1 L336.3,530.0 L337.1,528.9 L337.8,527.7 L338.4,526.6 L339.0,525.3 L339.5,524.1 L339.9,522.9 L340.2,521.8 L340.5,520.7 L340.7,519.5 L340.7,518.3 L340.7,516.9 L340.6,515.5 L340.2,514.0 L339.7,512.6 L339.0,511.3 L338.2,510.2 L337.3,509.1 L336.3,508.2 L335.3,507.3 L334.2,506.6 L333.1,505.8 L331.8,505.2 L330.5,504.5 L329.2,504.0 L327.9,503.6 L326.6,503.2 L325.3,502.8 L323.9,502.5 L322.6,502.1 L321.2,501.7 L319.7,501.2 L318.1,500.8 L316.5,500.3 L314.9,499.9 L313.3,499.4 L311.7,498.9 L310.1,498.4 L308.4,497.8 L306.7,497.1 L304.8,496.3 L302.9,495.5 L301.0,494.7 L299.1,493.9 L297.3,493.0 L295.6,492.2 L294.2,491.5 L292.9,490.8 L291.8,490.1 L290.8,489.4 L289.8,488.7 L288.8,488.0 L287.9,487.3 L287.0,486.5 L286.1,485.9 L285.2,485.2 L284.4,484.6 L283.5,483.9 L282.7,483.2 L281.9,482.6 L281.2,482.0 L280.6,481.5 L280.2,481.1Z"/>
<path fill="#d7e6ad" fill-rule="evenodd" d="M335.7,461.0 L335.4,464.6 L334.4,468.0 L332.8,471.2 L330.7,474.2 L328.0,476.7 L324.9,478.8 L321.6,480.3 L317.9,481.2 L314.2,481.5 L310.5,481.2 L306.8,480.3 L303.4,478.8 L300.4,476.7 L297.7,474.2 L295.6,471.2 L294.0,468.0 L293.0,464.6 L292.7,461.0 L293.0,457.4 L294.0,454.0 L295.6,450.8 L297.7,447.8 L300.4,445.3 L303.4,443.2 L306.8,441.7 L310.5,440.8 L314.2,440.5 L317.9,440.8 L321.6,441.7 L324.9,443.2 L328.0,445.3 L330.7,447.8 L332.8,450.8 L334.4,454.0 L335.4,457.4Z M328.3,458.4 L327.7,456.4 L326.8,454.5 L325.6,452.8 L324.0,451.3 L322.2,450.1 L320.3,449.2 L318.2,448.7 L316.0,448.5 L313.8,448.7 L311.7,449.2 L309.8,450.1 L308.0,451.3 L306.4,452.8 L305.2,454.5 L304.3,456.4 L303.7,458.4 L303.5,460.5 L303.7,462.6 L304.3,464.6 L305.2,466.5 L306.4,468.2 L308.0,469.7 L309.8,470.9 L311.7,471.8 L313.8,472.3 L316.0,472.5 L318.2,472.3 L320.3,471.8 L322.2,470.9 L324.0,469.7 L325.6,468.2 L326.8,466.5 L327.7,464.6 L328.3,462.6 L328.5,460.5Z"/>
<path fill="#d7e6ad" fill-rule="evenodd" d="M295.7,426.9 L296.3,427.3 L297.0,427.8 L297.9,428.4 L298.9,429.0 L299.9,429.8 L301.1,430.5 L302.3,431.3 L303.7,432.2 L305.2,433.1 L306.9,434.2 L308.7,435.4 L310.7,436.7 L312.8,437.9 L314.8,439.2 L316.9,440.5 L318.9,441.6 L320.9,442.7 L322.9,443.8 L324.9,444.8 L326.8,445.8 L328.8,446.8 L330.7,447.7 L332.5,448.5 L334.3,449.4 L336.1,450.1 L337.8,450.9 L339.5,451.5 L341.2,452.2 L342.8,452.8 L344.4,453.3 L345.9,453.8 L347.3,454.3 L348.6,454.6 L350.0,454.9 L351.2,455.2 L352.4,455.3 L353.4,455.4 L354.4,455.5 L355.1,455.6 L355.7,455.7 L356.3,454.3 L355.7,454.0 L355.1,453.5 L354.3,453.0 L353.5,452.4 L352.5,451.8 L351.5,451.1 L350.4,450.4 L349.3,449.7 L348.1,449.0 L346.9,448.2 L345.5,447.3 L344.1,446.4 L342.5,445.5 L341.0,444.5 L339.3,443.6 L337.7,442.6 L335.9,441.7 L334.1,440.8 L332.2,439.8 L330.3,438.9 L328.3,437.9 L326.4,436.9 L324.4,436.0 L322.5,435.0 L320.5,434.0 L318.4,432.9 L316.3,431.7 L314.2,430.6 L312.1,429.5 L310.1,428.5 L308.1,427.6 L306.3,426.8 L304.6,426.2 L303.0,425.8 L301.5,425.5 L300.2,425.4 L299.0,425.3 L297.9,425.2 L297.0,425.1 L296.3,425.1Z"/>
<path fill="#d7e6ad" fill-rule="evenodd" d="M350.2,385.0 L349.5,384.8 L348.5,384.4 L347.4,383.9 L346.0,383.4 L344.6,382.9 L343.0,382.4 L341.4,382.1 L339.8,382.0 L338.3,382.1 L336.7,382.2 L335.1,382.5 L333.4,382.8 L331.8,383.3 L330.2,383.8 L328.7,384.5 L327.2,385.3 L325.9,386.2 L324.7,387.1 L323.5,388.2 L322.5,389.4 L321.5,390.6 L320.6,391.9 L319.9,393.3 L319.2,394.7 L318.7,396.3 L318.3,397.9 L318.1,399.5 L317.9,401.2 L317.8,402.8 L317.8,404.4 L317.9,405.9 L318.0,407.4 L318.2,408.8 L318.5,410.2 L318.8,411.6 L319.2,412.9 L319.7,414.2 L320.2,415.5 L320.8,416.7 L321.5,417.8 L322.3,418.9 L323.1,420.0 L323.9,421.0 L324.8,421.9 L325.8,422.8 L326.9,423.6 L328.0,424.4 L329.2,425.2 L330.5,426.0 L331.9,426.7 L333.3,427.4 L334.8,428.1 L336.4,428.7 L337.9,429.3 L339.5,429.8 L341.1,430.3 L342.8,430.8 L344.6,431.2 L346.5,431.7 L348.4,432.0 L350.2,432.3 L351.8,432.6 L353.1,432.9 L354.1,433.1 L354.7,431.1 L353.8,430.7 L352.5,430.2 L351.0,429.5 L349.4,428.8 L347.7,428.0 L346.0,427.2 L344.4,426.4 L342.9,425.7 L341.6,425.0 L340.2,424.2 L338.8,423.5 L337.4,422.7 L336.1,422.0 L334.9,421.3 L333.8,420.5 L332.8,419.8 L331.9,419.1 L331.1,418.4 L330.3,417.7 L329.7,417.0 L329.0,416.4 L328.5,415.7 L328.0,414.9 L327.5,414.2 L327.0,413.3 L326.6,412.5 L326.2,411.6 L325.9,410.7 L325.6,409.7 L325.3,408.7 L325.1,407.7 L325.0,406.6 L324.9,405.5 L324.8,404.3 L324.9,403.0 L324.9,401.7 L325.0,400.4 L325.2,399.3 L325.5,398.2 L325.8,397.3 L326.1,396.4 L326.6,395.4 L327.2,394.5 L327.8,393.7 L328.5,392.9 L329.2,392.1 L330.0,391.4 L330.8,390.7 L331.7,390.1 L332.7,389.5 L333.9,389.0 L335.1,388.5 L336.4,388.0 L337.8,387.6 L339.0,387.3 L340.2,387.0 L341.3,386.8 L342.6,386.7 L344.0,386.7 L345.3,386.7 L346.7,386.8 L347.9,386.9 L349.0,386.9 L349.8,387.0Z"/>
<path fill="#d7e6ad" fill-rule="evenodd" d="M357.3,351.3 L356.8,351.6 L356.1,352.1 L355.3,352.6 L354.4,353.2 L353.4,353.9 L352.4,354.8 L351.5,355.8 L350.7,357.0 L350.1,358.2 L349.6,359.5 L349.1,360.8 L348.8,362.2 L348.4,363.6 L348.2,365.1 L348.1,366.6 L348.0,368.1 L348.0,369.7 L348.1,371.3 L348.2,372.9 L348.4,374.6 L348.7,376.4 L349.2,378.1 L349.7,379.9 L350.4,381.6 L351.1,383.3 L352.0,385.0 L353.0,386.7 L354.1,388.4 L355.3,390.0 L356.5,391.5 L357.8,392.9 L359.2,394.2 L360.7,395.4 L362.2,396.5 L363.8,397.4 L365.4,398.3 L367.2,399.0 L368.9,399.6 L370.8,400.0 L372.6,400.2 L374.5,400.3 L376.5,400.1 L378.4,399.8 L380.2,399.4 L382.1,398.8 L383.8,398.1 L385.5,397.3 L387.1,396.4 L388.6,395.3 L389.9,394.1 L391.2,392.8 L392.3,391.5 L393.3,390.0 L394.3,388.5 L395.0,386.9 L395.7,385.4 L396.3,383.7 L396.7,382.0 L397.0,380.3 L397.2,378.5 L397.3,376.7 L397.3,375.0 L397.2,373.3 L397.0,371.7 L396.7,370.0 L396.2,368.4 L395.7,366.8 L395.0,365.2 L394.3,363.8 L393.6,362.4 L392.8,361.0 L391.9,359.8 L390.9,358.6 L389.7,357.5 L388.5,356.5 L387.3,355.6 L386.2,354.9 L385.1,354.2 L384.3,353.7 L383.7,353.3 L382.3,354.7 L382.8,355.3 L383.5,356.1 L384.3,357.0 L385.2,358.0 L386.1,359.0 L386.9,360.1 L387.6,361.2 L388.1,362.2 L388.6,363.3 L389.1,364.5 L389.6,365.8 L390.0,367.1 L390.4,368.5 L390.7,369.8 L390.9,371.1 L391.0,372.3 L391.0,373.6 L391.0,375.0 L390.9,376.4 L390.7,377.7 L390.5,379.1 L390.1,380.4 L389.7,381.6 L389.3,382.6 L388.7,383.7 L388.1,384.7 L387.3,385.7 L386.5,386.7 L385.6,387.6 L384.7,388.3 L383.8,389.0 L382.9,389.6 L381.9,390.1 L380.7,390.6 L379.5,391.0 L378.2,391.3 L376.9,391.6 L375.6,391.8 L374.4,391.8 L373.4,391.8 L372.3,391.6 L371.3,391.3 L370.2,391.0 L369.1,390.5 L367.9,389.9 L366.8,389.3 L365.8,388.5 L364.8,387.8 L363.8,386.9 L362.8,385.9 L361.8,384.8 L360.8,383.5 L359.9,382.2 L359.1,380.9 L358.3,379.6 L357.6,378.4 L357.1,377.2 L356.6,375.9 L356.2,374.6 L355.9,373.2 L355.6,371.9 L355.4,370.5 L355.2,369.1 L355.0,367.9 L354.9,366.6 L354.8,365.4 L354.8,364.3 L354.8,363.1 L354.9,362.0 L355.0,360.9 L355.1,359.9 L355.3,359.0 L355.5,358.2 L355.8,357.3 L356.3,356.4 L356.8,355.5 L357.4,354.7 L357.9,353.9 L358.4,353.2 L358.7,352.7Z"/>
<path fill="#d7e6ad" fill-rule="evenodd" d="M332.7,314.2 L333.2,314.6 L333.9,315.1 L334.6,315.7 L335.4,316.4 L336.4,317.2 L337.4,318.0 L338.5,318.8 L339.7,319.7 L341.0,320.6 L342.5,321.7 L344.1,322.8 L345.8,324.0 L347.6,325.2 L349.3,326.4 L351.0,327.5 L352.7,328.7 L354.3,329.7 L355.8,330.7 L357.3,331.7 L358.9,332.7 L360.4,333.7 L362.0,334.7 L363.6,335.7 L365.2,336.7 L366.9,337.8 L368.7,338.8 L370.5,339.8 L372.3,340.9 L374.2,341.9 L375.9,342.9 L377.7,343.8 L379.3,344.7 L380.9,345.6 L382.4,346.4 L383.9,347.2 L385.3,348.0 L386.8,348.7 L388.2,349.4 L389.6,350.1 L390.9,350.8 L392.4,351.5 L393.9,352.2 L395.4,352.9 L396.9,353.6 L398.4,354.2 L399.6,354.7 L400.7,355.2 L401.5,355.6 L402.5,354.4 L401.9,353.7 L401.2,352.8 L400.4,351.6 L399.4,350.4 L398.4,349.0 L397.3,347.7 L396.2,346.4 L395.1,345.2 L393.9,344.0 L392.8,342.9 L391.5,341.8 L390.3,340.7 L389.0,339.6 L387.6,338.5 L386.2,337.4 L384.7,336.3 L383.1,335.1 L381.4,334.0 L379.7,332.8 L377.9,331.6 L376.1,330.5 L374.3,329.4 L372.5,328.3 L370.8,327.3 L369.1,326.3 L367.4,325.4 L365.8,324.5 L364.1,323.6 L362.5,322.8 L360.8,322.0 L359.1,321.2 L357.3,320.3 L355.5,319.5 L353.5,318.7 L351.6,317.8 L349.6,317.0 L347.6,316.2 L345.7,315.5 L344.0,314.9 L342.3,314.3 L340.8,313.9 L339.4,313.6 L338.0,313.3 L336.8,313.2 L335.7,313.0 L334.7,313.0 L333.9,312.9 L333.3,312.8Z"/>
<path fill="#d7e6ad" fill-rule="evenodd" d="M354.0,300.0 C354.7,298.8 357.0,296.3 359.0,295.5 C361.0,294.7 364.2,294.5 366.0,295.0 C367.8,295.5 369.5,296.8 370.0,298.5 C370.5,300.2 369.8,303.4 369.0,305.0 C368.2,306.6 366.3,308.5 365.5,308.0 C364.7,307.5 365.1,303.1 364.0,302.0 C362.9,300.9 360.5,301.3 359.0,301.5 C357.5,301.7 355.8,303.2 355.0,303.0 C354.2,302.8 353.3,301.2 354.0,300.0Z"/>
<path fill="#d7e6ad" fill-rule="evenodd" d="M376.1,306.3 L376.1,307.0 L376.1,307.9 L376.1,309.0 L376.2,310.2 L376.3,311.5 L376.4,312.8 L376.6,314.1 L376.8,315.4 L377.0,316.5 L377.2,317.7 L377.5,318.9 L377.9,320.2 L378.3,321.5 L378.9,323.0 L379.6,324.5 L380.5,325.9 L381.4,327.4 L382.4,328.9 L383.6,330.4 L384.8,331.9 L386.1,333.4 L387.5,334.8 L388.9,336.2 L390.4,337.5 L392.0,338.7 L393.7,339.9 L395.4,341.0 L397.1,342.0 L398.8,342.9 L400.5,343.7 L402.2,344.4 L403.8,345.1 L405.4,345.6 L407.0,346.0 L408.5,346.3 L410.0,346.6 L411.5,346.7 L413.0,346.8 L414.5,346.7 L416.0,346.5 L417.5,346.1 L419.0,345.5 L420.4,344.8 L421.6,344.0 L422.6,343.2 L423.5,342.5 L424.2,341.9 L424.8,341.5 L424.2,339.5 L423.5,339.5 L422.5,339.5 L421.4,339.4 L420.2,339.3 L419.0,339.2 L417.8,339.0 L416.8,338.8 L416.0,338.5 L415.2,338.2 L414.3,337.8 L413.4,337.5 L412.4,337.0 L411.4,336.6 L410.4,336.1 L409.3,335.5 L408.2,334.9 L406.9,334.3 L405.6,333.6 L404.2,332.8 L402.8,332.0 L401.4,331.1 L400.1,330.2 L398.8,329.4 L397.6,328.5 L396.4,327.6 L395.2,326.6 L394.0,325.5 L392.8,324.4 L391.6,323.2 L390.5,322.1 L389.5,321.0 L388.5,320.1 L387.8,319.2 L387.1,318.3 L386.4,317.5 L385.8,316.6 L385.2,315.6 L384.6,314.6 L383.9,313.6 L383.2,312.6 L382.5,311.7 L381.8,310.7 L381.0,309.7 L380.2,308.7 L379.5,307.8 L378.9,306.9 L378.4,306.2 L377.9,305.7Z"/>
<path fill="#d7e6ad" fill-rule="evenodd" d="M400.5,271.1 C403.2,270.1 410.9,268.6 415.7,268.6 C420.5,268.6 427.7,269.6 432.5,271.1 C437.3,272.6 444.5,276.7 447.7,278.7 C450.9,280.7 452.8,283.6 453.6,284.6 C454.4,285.6 455.2,286.2 452.8,285.4 C450.4,284.6 441.9,280.6 437.6,279.5 C433.3,278.4 428.2,277.7 424.1,277.8 C420.1,277.9 413.6,279.3 410.6,280.4 C407.6,281.5 405.0,283.2 404.0,285.0 C403.0,286.8 402.1,290.1 403.9,292.2 C405.7,294.3 412.4,296.4 415.7,298.9 C419.0,301.4 423.5,306.2 425.8,309.0 C428.1,311.8 430.4,315.7 430.9,317.5 C431.4,319.3 430.7,320.9 429.2,320.9 C427.7,320.9 423.5,318.8 420.7,317.5 C417.9,316.2 413.4,314.4 410.6,312.4 C407.8,310.4 404.7,306.0 402.2,304.0 C399.7,302.0 395.5,300.3 393.7,298.9 C391.9,297.5 390.1,296.8 390.4,294.7 C390.7,292.6 394.9,288.0 396.0,285.0 C397.1,282.0 397.3,277.1 398.0,275.0 C398.7,272.9 397.8,272.1 400.5,271.1Z"/>
<path fill="#d1cac1" fill-rule="evenodd" d="M466.6,265.0 C466.6,266.0 466.4,267.1 466.0,268.0 C465.7,268.9 465.1,269.8 464.4,270.5 C463.7,271.2 462.8,271.8 461.9,272.2 C461.0,272.6 460.0,272.8 459.0,272.8 C458.0,272.8 457.0,272.6 456.1,272.2 C455.2,271.8 454.3,271.2 453.6,270.5 C452.9,269.8 452.3,268.9 452.0,268.0 C451.6,267.1 451.4,266.0 451.4,265.0 C451.4,264.0 451.6,262.9 452.0,262.0 C452.3,261.1 452.9,260.2 453.6,259.5 C454.3,258.8 455.2,258.2 456.1,257.8 C457.0,257.4 458.0,257.2 459.0,257.2 C460.0,257.2 461.0,257.4 461.9,257.8 C462.8,258.2 463.7,258.8 464.4,259.5 C465.1,260.2 465.7,261.1 466.0,262.0 C466.4,262.9 466.6,264.0 466.6,265.0Z"/>
<path fill="#d1cac1" fill-rule="evenodd" d="M456.5,192.3 C457.6,191.6 459.0,191.1 460.3,191.2 C461.6,191.3 462.9,192.0 464.2,193.1 C465.5,194.2 468.4,196.9 468.0,197.7 C467.6,198.5 463.8,197.1 461.9,197.7 C460.0,198.3 457.9,199.6 456.5,201.5 C455.1,203.4 454.0,206.3 453.4,209.2 C452.8,212.1 452.4,216.2 452.7,219.1 C453.0,222.0 453.7,224.5 455.0,226.8 C456.3,229.1 458.1,231.6 460.3,232.9 C462.5,234.2 465.4,234.5 468.0,234.5 C470.6,234.5 473.5,234.2 475.7,232.9 C477.9,231.6 479.9,228.8 481.0,226.8 C482.1,224.8 482.1,223.0 482.6,220.7 C483.1,218.4 483.5,214.4 484.1,213.0 C484.7,211.6 485.8,211.6 486.4,212.2 C487.0,212.8 487.4,214.8 487.6,216.8 C487.9,218.9 488.1,222.1 487.9,224.5 C487.7,226.9 487.3,229.2 486.4,231.4 C485.5,233.6 484.4,235.7 482.6,237.5 C480.8,239.3 478.3,241.1 475.7,242.1 C473.1,243.1 470.0,243.7 467.2,243.7 C464.4,243.7 461.4,243.1 458.8,242.1 C456.2,241.1 453.7,239.5 451.9,237.5 C450.1,235.5 449.1,232.7 448.1,229.9 C447.2,227.1 446.5,224.0 446.2,220.7 C445.9,217.4 445.9,213.2 446.5,209.9 C447.1,206.6 448.5,203.1 449.6,200.7 C450.8,198.3 452.2,196.8 453.4,195.4 C454.5,194.0 455.4,193.0 456.5,192.3Z"/>
<path fill="#d1cac1" fill-rule="evenodd" d="M497.5,153.9 L498.1,154.3 L498.9,154.8 L499.9,155.4 L500.8,156.1 L501.8,156.7 L502.7,157.4 L503.3,158.1 L503.8,158.7 L504.2,159.3 L504.7,160.1 L505.2,160.8 L505.6,161.6 L506.0,162.5 L506.4,163.3 L506.7,164.2 L506.9,165.1 L507.1,166.1 L507.2,167.3 L507.3,168.5 L507.4,169.8 L507.4,171.2 L507.3,172.6 L507.2,174.1 L507.0,175.5 L506.8,176.9 L506.5,178.5 L506.2,180.0 L505.8,181.5 L505.4,183.0 L504.9,184.4 L504.3,185.7 L503.8,186.9 L503.1,188.0 L502.3,189.1 L501.5,190.3 L500.6,191.3 L499.7,192.3 L498.9,193.1 L498.0,193.8 L497.3,194.3 L496.7,194.6 L496.0,194.9 L495.3,195.0 L494.5,195.1 L493.8,195.2 L493.1,195.2 L492.4,195.1 L491.8,194.9 L491.2,194.7 L490.4,194.3 L489.7,193.9 L488.9,193.3 L488.1,192.8 L487.5,192.1 L487.0,191.5 L486.6,191.0 L486.3,190.5 L486.0,189.8 L485.8,188.9 L485.5,187.9 L485.3,186.7 L485.2,185.5 L485.1,184.1 L485.0,182.8 L485.0,181.5 L485.0,180.1 L485.1,178.6 L485.3,177.1 L485.5,175.6 L485.8,174.1 L486.0,172.7 L486.3,171.5 L486.6,170.4 L486.9,169.2 L487.3,168.0 L487.7,166.9 L488.2,165.7 L488.7,164.6 L489.2,163.6 L489.6,162.7 L490.0,161.9 L490.5,161.2 L491.0,160.5 L491.5,159.7 L492.2,159.0 L492.8,158.3 L493.4,157.5 L494.0,156.8 L494.3,156.1 L494.6,155.5 L494.9,154.9 L495.1,154.4 L495.2,153.9 L495.4,153.4 L495.5,153.1 L495.6,152.8 L494.4,151.2 L494.1,151.3 L493.7,151.3 L493.2,151.4 L492.7,151.4 L492.1,151.5 L491.4,151.7 L490.7,151.9 L490.0,152.2 L489.4,152.5 L488.6,152.9 L487.7,153.3 L486.7,153.8 L485.6,154.5 L484.5,155.3 L483.4,156.3 L482.4,157.3 L481.4,158.4 L480.5,159.6 L479.6,160.8 L478.7,162.2 L477.8,163.6 L477.0,165.2 L476.3,166.8 L475.7,168.5 L475.2,170.2 L474.8,172.1 L474.5,173.9 L474.3,175.8 L474.1,177.7 L474.0,179.6 L474.0,181.4 L474.0,183.2 L474.1,184.9 L474.2,186.6 L474.4,188.3 L474.7,190.0 L475.1,191.8 L475.7,193.5 L476.4,195.3 L477.4,197.0 L478.5,198.5 L479.9,199.9 L481.3,201.1 L482.7,202.2 L484.3,203.2 L485.9,204.0 L487.5,204.6 L489.2,205.1 L490.9,205.4 L492.6,205.5 L494.3,205.5 L496.0,205.3 L497.7,204.9 L499.4,204.4 L501.1,203.6 L502.7,202.7 L504.2,201.6 L505.6,200.4 L506.9,199.0 L508.1,197.6 L509.3,196.1 L510.4,194.5 L511.3,192.8 L512.2,191.1 L513.0,189.4 L513.7,187.5 L514.3,185.7 L514.8,183.8 L515.2,181.9 L515.5,180.1 L515.8,178.3 L516.0,176.5 L516.1,174.8 L516.2,173.0 L516.2,171.3 L516.2,169.5 L516.1,167.8 L515.8,166.1 L515.5,164.5 L515.1,162.9 L514.5,161.4 L513.9,159.9 L513.2,158.6 L512.3,157.3 L511.4,156.2 L510.4,155.1 L509.4,154.2 L508.2,153.3 L506.9,152.6 L505.4,152.0 L503.9,151.7 L502.5,151.4 L501.2,151.3 L500.1,151.2 L499.2,151.2 L498.5,151.1Z"/>
<path fill="#d1cac1" fill-rule="evenodd" d="M490.9,129.7 C490.9,128.1 494.3,122.3 495.4,120.6 C496.5,118.9 497.9,117.4 499.3,116.7 C500.7,116.0 503.8,115.5 505.9,115.4 C508.0,115.3 513.3,115.8 515.0,116.0 C516.7,116.2 518.7,117.3 518.9,116.7 C519.1,116.1 517.1,113.1 516.3,111.5 C515.5,109.9 513.3,106.6 513.0,105.0 C512.7,103.4 513.1,100.9 513.7,99.7 C514.3,98.5 516.2,96.5 517.6,95.8 C519.0,95.1 522.2,94.5 524.1,94.5 C526.0,94.5 529.5,94.9 531.9,95.8 C534.3,96.7 539.4,99.4 542.4,101.0 C545.4,102.6 551.2,105.9 554.1,107.6 C557.0,109.3 564.0,113.4 564.5,114.1 C565.0,114.8 560.3,113.5 558.0,112.8 C555.7,112.1 550.4,109.8 547.6,108.9 C544.8,108.0 539.6,106.6 537.2,106.3 C534.8,106.0 530.7,106.0 529.3,106.3 C527.9,106.6 527.0,107.9 526.7,108.9 C526.4,109.9 526.4,112.5 526.7,114.1 C527.0,115.7 528.9,119.2 529.3,120.6 C529.7,122.0 530.5,124.0 530.0,124.5 C529.5,125.0 527.1,124.7 525.4,124.5 C523.7,124.3 519.5,123.2 517.6,123.2 C515.7,123.2 512.3,124.0 511.1,124.5 C509.9,125.0 508.8,126.1 508.5,127.1 C508.2,128.1 508.0,130.6 508.5,132.3 C509.0,134.0 511.0,138.1 512.4,140.2 C513.8,142.3 517.0,145.9 518.9,148.0 C520.8,150.1 524.6,154.1 526.7,155.8 C528.8,157.5 534.3,160.6 534.5,161.0 C534.7,161.4 530.1,160.1 528.0,159.1 C525.9,158.1 521.5,155.2 518.9,153.2 C516.3,151.2 510.9,146.4 508.5,144.1 C506.1,141.8 502.3,137.8 500.6,136.2 C498.9,134.6 496.7,133.2 495.4,132.3 C494.1,131.4 490.9,131.3 490.9,129.7Z"/>
</g>
</svg></body></html>
